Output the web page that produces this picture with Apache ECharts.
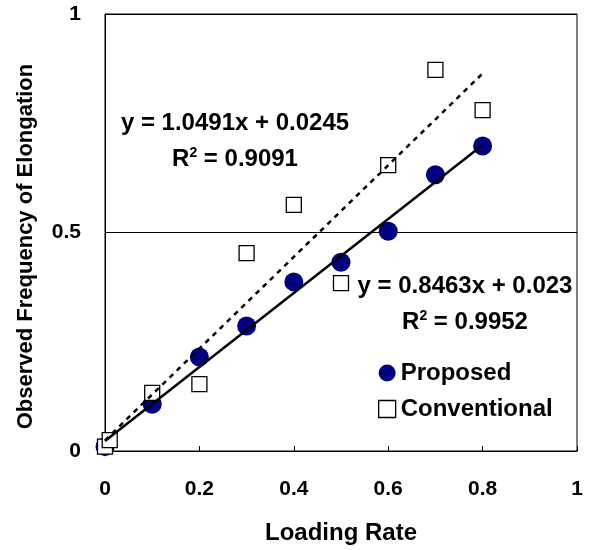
<!DOCTYPE html>
<html>
<head>
<meta charset="utf-8">
<script src="https://cdn.jsdelivr.net/npm/echarts@6/dist/echarts.min.js"></script>
<style>
  html, body { margin: 0; padding: 0; background: #fff; }
</style>
</head>
<body>
<!-- Echarts容器 -->
<div id="chart" style="width: 591px; height: 550px"></div>
<script>
// 数据
const loadingRate = [0, 0.1, 0.2, 0.3, 0.4, 0.5, 0.6, 0.7, 0.8]
const proposed = [0.01, 0.107, 0.215, 0.286, 0.387, 0.432, 0.503, 0.632, 0.698]
const conventionalX = [0, 0.01, 0.1, 0.2, 0.3, 0.4, 0.5, 0.6, 0.7, 0.8]
const conventional = [0.01, 0.025, 0.133, 0.153, 0.453, 0.563, 0.384, 0.654, 0.872, 0.780]
// 趋势线 (斜率, 截距, R2)
const fitProposed = { slope: 0.8463, intercept: 0.023, r2: '0.9952' }
const fitConventional = { slope: 1.0491, intercept: 0.0245, r2: '0.9091' }
const fitRange = [0, 0.8]
const xTicks = { min: 0, max: 1, interval: 0.2 }
const yTicks = { min: 0, max: 1, interval: 0.5 }

const font = 'Liberation Sans'
const navy = '#000080'

function pairs(xs, ys) {
  return xs.map((x, i) => [x, ys[i]])
}
function fitLine(fit) {
  return fitRange.map(x => [x, fit.slope * x + fit.intercept])
}
// 公式文字
function eqText(fit) {
  return 'y = ' + fit.slope + 'x + ' + fit.intercept
}
function r2Text(fit) {
  return '{n|R}{s|2}{n| = ' + fit.r2 + '}'
}
const richText = {
  n: { fontFamily: font, fontWeight: 'bold', fontSize: 24, lineHeight: 26, fill: '#000' },
  s: { fontFamily: font, fontWeight: 'bold', fontSize: 14, lineHeight: 26, verticalAlign: 'top', fill: '#000' }
}
function labelEl(x, y, text, rich) {
  return {
    type: 'text',
    x: x,
    y: y,
    z: 10,
    style: {
      text: text,
      rich: rich ? richText : undefined,
      fontFamily: font,
      fontWeight: 'bold',
      fontSize: 24,
      fill: '#000',
      align: 'center',
      verticalAlign: 'middle'
    }
  }
}

const option = {
  animation: false,
  grid: {
    left: 105,
    right: 14,
    top: 14,
    bottom: 99,
    show: true,
    borderColor: '#000',
    borderWidth: 1
  },
  legend: {
    orient: 'vertical',
    left: 378,
    top: 361,
    padding: 0,
    itemWidth: 17,
    itemHeight: 17,
    itemGap: 12,
    textStyle: { fontFamily: font, fontWeight: 'bold', fontSize: 24, color: '#000' },
    data: [
      { name: 'Proposed', icon: 'circle', itemStyle: { color: navy } },
      { name: 'Conventional', icon: 'rect', itemStyle: { color: '#fff', borderColor: '#000', borderWidth: 1.3 } }
    ]
  },
  xAxis: {
    type: 'value',
    min: xTicks.min,
    max: xTicks.max,
    interval: xTicks.interval,
    name: 'Loading Rate',
    nameLocation: 'middle',
    nameGap: 70,
    nameTextStyle: { fontFamily: font, fontWeight: 'bold', fontSize: 24, color: '#000' },
    axisLine: { lineStyle: { color: '#000', width: 1 } },
    axisTick: { inside: true, length: 5, lineStyle: { color: '#000' } },
    axisLabel: { margin: 28, fontFamily: font, fontWeight: 'bold', fontSize: 21, color: '#000' },
    splitLine: { show: false }
  },
  yAxis: {
    type: 'value',
    min: yTicks.min,
    max: yTicks.max,
    interval: yTicks.interval,
    name: 'Observed Frequency of Elongation',
    nameLocation: 'middle',
    nameGap: 68,
    nameTextStyle: { fontFamily: font, fontWeight: 'bold', fontSize: 22, color: '#000', padding: [0, 28, 0, 0] },
    axisLine: { lineStyle: { color: '#000', width: 1 } },
    axisTick: { show: false },
    axisLabel: { margin: 24, fontFamily: font, fontWeight: 'bold', fontSize: 21, color: '#000' },
    splitLine: { show: true, lineStyle: { color: '#000', width: 1 } }
  },
  series: [
    {
      name: 'Proposed',
      type: 'scatter',
      symbol: 'circle',
      symbolSize: 19,
      z: 2,
      itemStyle: { color: navy, opacity: 1 },
      data: pairs(loadingRate, proposed)
    },
    {
      name: 'Conventional',
      type: 'scatter',
      symbol: 'rect',
      symbolSize: 15,
      z: 3,
      itemStyle: { color: '#fff', borderColor: '#000', borderWidth: 1.3, opacity: 1 },
      data: pairs(conventionalX, conventional)
    },
    {
      name: 'fitProposed',
      type: 'line',
      z: 4,
      symbol: 'none',
      lineStyle: { color: '#000', width: 2.5, type: 'solid' },
      data: fitLine(fitProposed)
    },
    {
      name: 'fitConventional',
      type: 'line',
      z: 4,
      symbol: 'none',
      lineStyle: { color: '#000', width: 2.5, type: [5, 5] },
      data: fitLine(fitConventional)
    }
  ],
  graphic: [
    labelEl(235, 123, eqText(fitConventional)),
    labelEl(235, 159, r2Text(fitConventional), true),
    labelEl(465, 286, eqText(fitProposed)),
    labelEl(465, 322, r2Text(fitProposed), true)
  ]
}

echarts.init(document.getElementById('chart')).setOption(option)
</script>
</body>
</html>
